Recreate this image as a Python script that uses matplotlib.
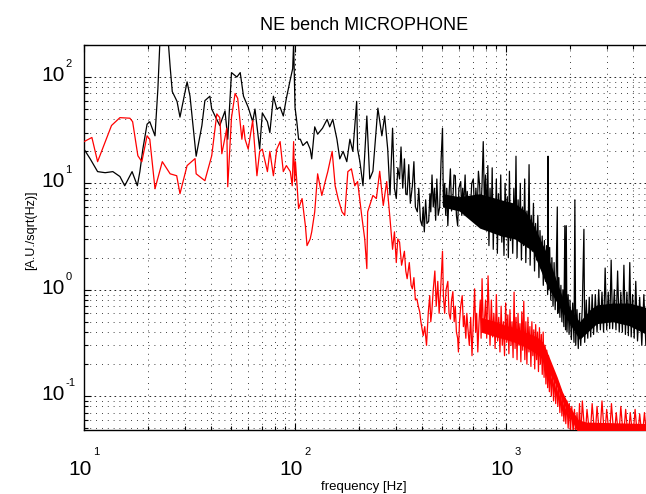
import matplotlib
matplotlib.use("Agg")
import matplotlib.pyplot as plt
import numpy as np

FONT = ['Liberation Sans', 'DejaVu Sans']
plt.rcParams['font.family'] = FONT

# ---------------- data ----------------
title = "NE bench MICROPHONE"
xlabel = "frequency [Hz]"
ylabel = "[A.U./sqrt(Hz)]"
xtick_exps = [1, 2, 3]
ytick_exps = [-1, 0, 1, 2]

black_freq = [10, 10.7, 11.6, 12.6, 13.7, 14.8, 15.6, 16.9, 17.9, 18.4, 19.0, 19.9, 20.5, 21.7, 22.4,
              23.2, 24.5, 25.6, 26.2, 27.6, 28.5, 30.8, 31.8, 34.0, 36.2, 37.4, 39.5, 40.3, 41.8, 44.0,
              46.6, 48.0, 50.0, 53.0, 55.0, 57.0, 60.0, 63.0, 64.6, 68.0, 70.0, 74.0, 76.0, 79.0, 82.0,
              85.0, 88.0, 91.0, 95.0, 97.5, 98.5, 100, 102, 104, 106, 109, 114, 118, 120, 124, 128, 135,
              142, 146, 151, 158, 163, 169, 176, 182, 188, 196, 198, 203, 210, 219, 226, 234, 247, 258,
              266, 275, 282,
              290, 296, 302, 307, 313, 318, 324, 330, 335, 340, 346, 352, 360, 366, 372, 380, 386, 393,
              400, 405, 410, 416, 422, 430, 436, 440, 446, 452, 458, 464, 470, 477, 485, 492, 500, 505,
              512, 518, 524, 530, 537, 545, 552, 560, 567, 575, 582, 590, 598, 610, 617, 623, 630, 640,
              648, 655, 665, 675, 688, 700, 710, 720, 730, 740, 750, 760, 770, 780, 790, 800, 810, 820,
              830, 840, 850, 860, 870, 880, 890, 900, 910, 920, 932, 944, 955, 966, 978, 990, 1002,
              1014, 1026, 1038, 1050, 1063, 1076, 1089, 1102, 1115, 1128, 1141, 1155, 1169, 1183,
              1197, 1211, 1226, 1241, 1256, 1271, 1286, 1301, 1317, 1333, 1349, 1365, 1381, 1398,
              1415, 1432, 1449, 1466, 1484, 1502, 1520, 1538, 1556, 1575, 1582, 1588, 1610, 1630,
              1650, 1670, 1690, 1710, 1730, 1750, 1760, 1780, 1800, 1820, 1840, 1860, 1880, 1900,
              1915, 1930, 1945, 1970, 1990, 2010, 2040, 2070, 2100, 2120, 2140, 2170, 2200, 2230,
              2260, 2300, 2340, 2360, 2400, 2440, 2480, 2520, 2560, 2600, 2650, 2700, 2750, 2800,
              2850, 2900, 2950, 3000, 3050, 3100, 3150, 3200, 3260, 3320, 3380, 3440, 3500, 3560,
              3620, 3680, 3740, 3800, 3860, 3920, 3980, 4050, 4120, 4200, 4300, 4400, 4500, 4600,
              4700, 4800, 4900, 5000]
black_val = [21, 17, 12.9, 12.6, 12.9, 11.6, 9.5, 12.9, 9.5, 12.9, 21, 36, 38, 28, 78,
             400, 400, 125, 73, 59, 42, 90, 66, 18, 35, 60, 66, 50, 43, 35,
             48, 26, 110, 100, 110, 66, 52, 38, 50, 21, 46, 38, 30, 66, 50,
             52, 43, 63, 95, 120, 210, 52, 38, 26, 26, 22.7, 24.7, 21, 17, 34, 29, 33,
             40, 34, 40, 26, 17, 20, 16, 26, 20, 59, 21, 16, 9.5, 43, 11, 13, 51, 28,
             43, 21, 7.8,
             33, 9, 7.2, 14, 11, 22, 9, 17, 8, 7.8, 15, 6.5, 9.5, 16, 6, 5.4, 9, 4.5,
             4.0, 6, 3.5, 7, 4.2, 4.4, 8, 5.4, 12, 6, 9, 4.5, 11, 5, 6, 16, 33, 6.2,
             10, 5, 9, 4, 8, 13.7, 5.5, 7.2, 12, 11.8, 5, 4, 9, 10.4, 5, 9, 6.2, 12,
             5.5, 8.4, 5, 4.7, 10, 11, 5, 9, 5.4, 13, 9.5, 5, 10, 24.7, 6.2, 12, 5, 14.7,
             2.6, 9, 3.8, 14, 2.4, 7, 4.5, 11, 2.2, 8, 3.5, 12, 2.8, 6.5, 2.1, 10, 3.4,
             7.5, 2.0, 13, 2.9, 6, 2.2, 9, 3.1, 18, 2.0, 7, 3.3, 10, 1.9,
             6, 2.6, 11, 1.8, 5.5, 2.5, 15, 1.7, 5, 2.3, 6.5, 1.5, 4.2, 1.9,
             5, 1.3, 3.6, 1.6, 3.2, 1.1, 2.9, 1.2, 2.6, 0.9, 18, 1.0, 2.5, 0.8,
             2.0, 0.7, 1.8, 0.65, 1.5, 6, 0.6, 1.3, 0.55, 1.1, 0.5, 1.0, 0.45, 4,
             0.42, 4, 0.4, 0.9, 0.38, 0.8, 0.34, 0.75, 0.32, 7, 0.3, 0.65, 0.28, 0.6,
             0.3, 0.7, 3.7, 0.32, 0.8, 0.35, 0.85, 0.36, 0.9, 0.38, 0.9, 0.4, 1.0, 0.42,
             0.95, 0.4, 1.6, 0.42, 0.95, 0.43, 1.9, 0.43, 1.0, 0.42, 1.5, 0.4, 0.95, 0.4,
             1.7, 0.38, 0.95, 0.37, 1.8, 0.36, 0.9, 0.35, 1.2, 0.33, 0.85, 0.3, 0.9, 0.3,
             0.8, 0.32, 0.85, 0.3]

# dense core of the black spectrum (lower / upper envelope)
black_band_freq = [500, 600, 750, 840, 950, 1100, 1230, 1340, 1560, 1850, 2230, 2500, 2690, 3200, 3830, 4640, 5000]
black_band_lo = [6.0, 5.5, 3.8, 3.5, 3.2, 3.0, 2.6, 2.3, 1.1, 0.62, 0.34, 0.42, 0.48, 0.5, 0.46, 0.38, 0.37]
black_band_hi = [8, 7.5, 8, 7.5, 7, 6.5, 5.5, 4.2, 2.2, 0.85, 0.5, 0.65, 0.72, 0.75, 0.75, 0.68, 0.68]

red_freq = [10, 10.9, 11.6, 13.5, 14.8, 16.5, 17.0, 18.0, 18.8, 19.9, 20.5, 21.7, 23.5, 25.6, 27.5,
            28.5, 30.8, 33.6, 34.0, 37.4, 40.3, 42.6, 44.0, 45.0, 47.5, 48.0, 50.0, 52.0, 53.5, 56.0,
            57.0, 58.0, 60.0, 63.0, 66.0, 68.0, 70.0, 74.0, 76.0, 79.0, 82.0, 85.0, 88.0, 91.0, 95.0,
            97.0, 98.5, 99.5, 100.5, 104, 108, 112, 114, 118, 120, 124, 128, 134, 139, 143, 150, 155,
            160, 167, 172, 178, 185, 192, 198, 207, 214, 219, 221, 234, 243, 252, 262, 272, 282,
            290, 296, 302, 307, 313, 320, 330, 335, 340, 348, 355, 360, 366, 372, 378, 384, 390, 395,
            400, 405, 412, 420, 428, 435, 440, 445, 452, 460, 467, 475, 482, 490, 500, 505, 512, 520,
            530, 537, 545, 552, 560, 568, 575, 582, 590, 595, 602, 610, 620, 628, 635, 645, 652, 660,
            670, 680, 690, 700, 710, 718, 726, 735, 745, 755, 762, 770, 780, 790, 800, 810, 822,
            840, 852, 864, 876, 888, 900, 912, 924, 936, 948, 960, 972, 984, 996, 1008, 1020, 1032,
            1044, 1056, 1068, 1080, 1092, 1104, 1116, 1128, 1140, 1152, 1164, 1176, 1188, 1200,
            1214, 1228, 1242, 1256, 1270, 1284, 1298, 1312, 1326, 1340, 1354, 1368, 1382, 1396,
            1410, 1425, 1440, 1455, 1470, 1485, 1500, 1515, 1530, 1545, 1560, 1575, 1590, 1605,
            1620, 1640, 1660, 1680, 1700, 1720, 1740, 1760, 1780, 1800, 1820, 1840, 1860, 1880,
            1900, 1920, 1945, 1970, 1995, 2020, 2050, 2080, 2110, 2140, 2170, 2200,
            2230, 2260, 2300, 2370, 2420, 2500, 2560, 2640, 2700, 2780,
            2850, 2930, 3000, 3090, 3160, 3250, 3330, 3420, 3500, 3600, 3690, 3790, 3880, 3990,
            4090, 4200, 4300, 4420, 4530, 4650, 4760, 4890, 5000]
red_val = [24.7, 27, 16, 35, 41.5, 41, 38, 18.2, 16, 28, 26, 8.9, 16, 12.3, 11.8,
           8.0, 14.7, 17.1, 12.3, 10.6, 18.2, 45, 41.5, 19, 33, 9.3, 41.5, 70, 63, 26,
           35, 26, 21, 39, 11.8, 20, 21, 12.9, 20, 11.8, 21, 24.7, 12.9, 14.7, 12.9,
           9.5, 24.7, 10.4, 16, 5.8, 7.2, 4.0, 2.6, 3.0, 3.5, 5.4, 12.3, 7.7, 10.4, 12.9, 20, 9.5,
           7.2, 5.4, 5.0, 12.9, 13.7, 9.5, 10.4, 5.0, 3.0, 1.58, 5.4, 7.7, 7.2, 13, 6.2, 10.4, 4.66,
           2.4, 3.5, 1.8, 3.0, 2.8, 1.7, 2.3, 1.5, 1.27, 1.8, 1.1, 1.02, 1.3, 0.8, 0.82, 0.7, 0.62, 0.5,
           0.43, 0.37, 0.45, 0.3, 0.6, 0.88, 0.5, 0.62, 1.0, 1.5, 0.7, 1.2, 0.6, 1.0, 2.3, 0.88, 0.6, 1.0,
           1.2, 0.6, 0.53, 0.8, 0.96, 0.5, 0.7, 0.4, 0.35, 0.26, 0.5, 0.7, 0.88, 0.45, 0.57, 0.35, 0.6, 0.43,
           0.3, 0.55, 0.24, 0.5, 1.02, 0.4, 0.6, 0.26, 0.5, 0.8, 0.35, 1.27, 0.45, 0.5, 0.8, 0.35, 1.35,
           0.3, 0.8, 0.36, 0.6, 0.28, 0.9, 0.33, 0.55, 0.26, 0.7, 0.3, 0.5, 0.24, 0.75, 0.32, 0.58, 0.25,
           0.65, 0.3, 0.5, 0.23, 0.95, 0.28, 0.55, 0.22, 0.6, 0.3, 0.48, 0.21, 0.62, 0.27,
           0.78, 0.22, 0.5, 0.2, 0.55, 0.26, 0.45, 0.19, 0.5, 0.24, 0.42, 0.18, 0.47, 0.22,
           0.4, 0.17, 0.44, 0.2, 0.38, 0.16, 0.4, 0.15, 0.3, 0.13, 0.27, 0.12, 0.24, 0.11,
           0.2, 0.1, 0.18, 0.09, 0.16, 0.085, 0.14, 0.08, 0.13, 0.07, 0.115, 0.065, 0.1, 0.058,
           0.095, 0.055, 0.09, 0.05, 0.085, 0.047, 0.08, 0.045, 0.075, 0.043, 0.07, 0.04,
           0.085, 0.04, 0.09, 0.04, 0.075, 0.04, 0.085, 0.04, 0.08, 0.04,
           0.09, 0.04, 0.075, 0.04, 0.085, 0.04, 0.07, 0.04, 0.08, 0.04, 0.075, 0.04, 0.07, 0.04,
           0.075, 0.04, 0.068, 0.04, 0.07, 0.04, 0.065, 0.04, 0.06]

# dense core of the red spectrum (lower / upper envelope)
red_band_freq = [760, 900, 1000, 1100, 1230, 1400, 1500, 1620, 1750, 1850, 2000, 2200, 2400, 5000]
red_band_lo = [0.4, 0.36, 0.34, 0.32, 0.29, 0.25, 0.22, 0.16, 0.12, 0.09, 0.065, 0.045, 0.04, 0.04]
red_band_hi = [0.55, 0.5, 0.46, 0.44, 0.4, 0.36, 0.32, 0.22, 0.15, 0.11, 0.08, 0.06, 0.057, 0.055]

# ---------------- figure ----------------
fig = plt.figure(figsize=(6.46, 4.94), dpi=100)
ax = fig.add_axes([84 / 646, 64 / 494, (653.5 - 84) / 646, 385 / 494])
ax.set_xscale('log')
ax.set_yscale('log')

ax.fill_between(black_band_freq, black_band_lo, black_band_hi, color='k', lw=0, zorder=2)
ax.plot(black_freq, black_val, color='k', lw=0.9, zorder=3)
ax.fill_between(red_band_freq, red_band_lo, red_band_hi, color='#ff0000', lw=0, zorder=4)
ax.plot(red_freq, red_val, color='#ff0000', lw=0.9, zorder=5)

ax.set_xlim(10, 5000)
ax.set_ylim(0.048, 200)

ax.set_axisbelow(True)
ax.grid(True, which='major', color='k', lw=0.6, ls=(0, (2, 4)))
ax.grid(True, which='minor', color='k', lw=0.6, ls=(0, (1, 6)))
ax.tick_params(which='both', direction='in', top=True, right=True,
               labelbottom=False, labelleft=False, width=0.8, color='k')
ax.tick_params(which='major', length=5)
ax.tick_params(which='minor', length=3)
for s in ax.spines.values():
    s.set_linewidth(1.0)
    s.set_color('k')

# tick labels as "10" with a small raised exponent
for e in xtick_exps:
    ax.annotate('10', xy=(10.0 ** e, 0), xycoords=('data', 'axes fraction'),
                xytext=(-2.5, -21.5), textcoords='offset points', ha='center', va='top',
                fontsize=15, family=FONT)
    ax.annotate(str(e), xy=(10.0 ** e, 0), xycoords=('data', 'axes fraction'),
                xytext=(6.5, -12), textcoords='offset points', ha='left', va='top',
                fontsize=8, family=FONT)
for e in ytick_exps:
    ax.annotate('10', xy=(0, 10.0 ** e), xycoords=('axes fraction', 'data'),
                xytext=(-14, 1), textcoords='offset points', ha='right', va='center',
                fontsize=15, family=FONT)
    ax.annotate(str(e), xy=(0, 10.0 ** e), xycoords=('axes fraction', 'data'),
                xytext=(-13.5, 13), textcoords='offset points', ha='left', va='top',
                fontsize=8, family=FONT)

fig.text(364 / 646, 1 - 25 / 494, title, ha='center', va='center', fontsize=13, family=FONT)
fig.text(364 / 646, 1 - 487 / 494, xlabel, ha='center', va='center', fontsize=9.5, family=FONT)
fig.text(31 / 646, 1 - 230 / 494, ylabel, ha='center', va='center', rotation=90, fontsize=9, family=FONT)

fig.savefig('out.png', dpi=100)
